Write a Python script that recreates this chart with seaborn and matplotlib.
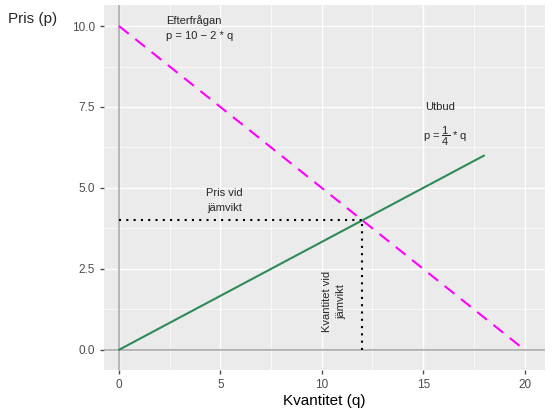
import matplotlib
matplotlib.use("Agg")
import matplotlib.pyplot as plt
import seaborn as sns
import numpy as np
import pandas as pd

demand_q = [0, 20]
demand_p = [10, 0]
supply_q = [0, 18]
supply_p = [0, 6]
eq_q = 12
eq_p = 4
xticks = [0, 5, 10, 15, 20]
yticks = [0.0, 2.5, 5.0, 7.5, 10.0]

sns.set_theme(style="darkgrid", rc={"axes.facecolor": "#EBEBEB", "grid.color": "white"})
plt.rcParams['font.family'] = ['Liberation Sans', 'DejaVu Sans']
plt.rcParams['mathtext.fontset'] = 'custom'
plt.rcParams['mathtext.rm'] = 'Liberation Sans'

fig = plt.figure(figsize=(5.56, 4.17), dpi=100)
ax = fig.add_axes([0.187, 0.113, 0.793, 0.875])

ax.axhline(0, color="#AAAAAA", lw=1.2, zorder=1)
ax.axvline(0, color="#AAAAAA", lw=1.2, zorder=1)
sns.lineplot(x=supply_q, y=supply_p, ax=ax, color="#2E8B57", lw=1.5)
sns.lineplot(x=demand_q, y=demand_p, ax=ax, color="#FF00FF", lw=1.5, linestyle=(0, (6, 4)))
ax.plot([0, eq_q], [eq_p, eq_p], color="black", lw=1.5, linestyle=(0, (1, 2.5)))
ax.plot([eq_q, eq_q], [0, eq_p], color="black", lw=1.5, linestyle=(0, (1, 2.5)))

ax.text(2.3, 9.95, "Efterfrågan\np = 10 − 2 * q", fontsize=8, va="center", ha="left", linespacing=1.6)
ax.text(15.1, 7.5, "Utbud", fontsize=8, ha="left", va="center")
ax.text(15.0, 6.6, r"p = $\mathrm{\dfrac{1}{4}}$ * q", fontsize=8, ha="left", va="center")
ax.text(5.2, 4.6, "Pris vid\njämvikt", fontsize=8, ha="center", va="center", linespacing=1.6)
ax.text(10.6, 1.5, "Kvantitet vid\njämvikt", fontsize=8, ha="center", va="center", rotation=90, linespacing=1.6)

ax.set_xlim(-0.74, 21.0)
ax.set_ylim(-0.62, 10.65)
ax.set_xticks(xticks)
ax.set_yticks(yticks)
ax.set_yticklabels([f"{v:.1f}" for v in yticks])
ax.tick_params(axis="both", labelsize=8.5, colors="#4D4D4D", length=3, width=1, direction="out", bottom=True, left=True)
for lab in ax.get_xticklabels() + ax.get_yticklabels():
    lab.set_color("#4D4D4D")
ax.set_xticks([2.5, 7.5, 12.5, 17.5], minor=True)
ax.set_yticks([1.25, 3.75, 6.25, 8.75], minor=True)
ax.grid(which="minor", color="white", lw=0.5)
ax.grid(which="major", color="white", lw=1.0)
ax.tick_params(which="minor", length=0)
for s in ax.spines.values():
    s.set_visible(False)
ax.set_xlabel("Kvantitet (q)", fontsize=11, color="black", labelpad=2)
ax.set_ylabel("")
fig.text(0.015, 0.955, "Pris (p)", fontsize=11, ha="left", va="center")
fig.savefig("out.png", dpi=100)
